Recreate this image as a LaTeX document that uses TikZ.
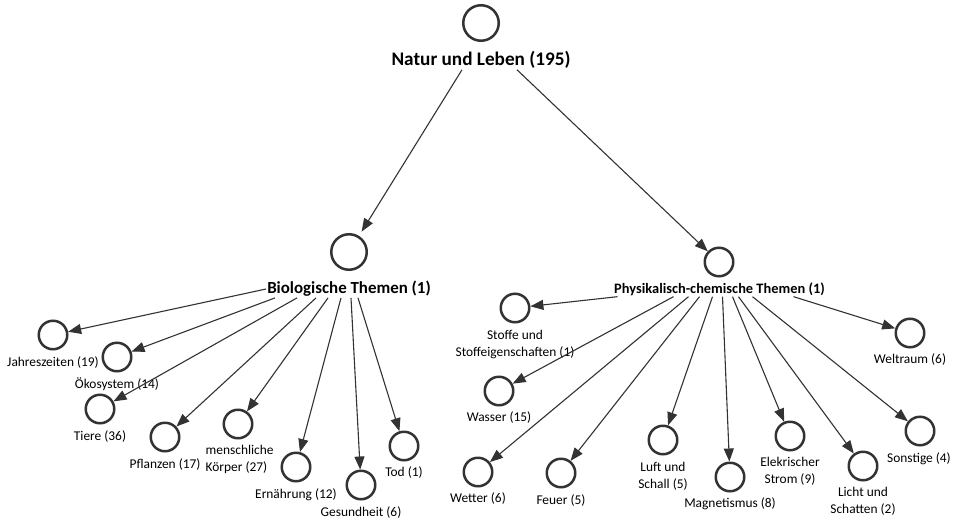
\documentclass[tikz,border=0pt]{standalone}
\usepackage{fontspec}
\setmainfont{Carlito}
\usetikzlibrary{arrows.meta}
\definecolor{ln}{HTML}{333333}
\begin{document}
\begin{tikzpicture}[x=1pt,y=-1pt,
  bigc/.style={circle,draw=ln,line width=2.5pt,minimum size=35.5pt,inner sep=0},
  smallc/.style={circle,draw=ln,line width=2.5pt,minimum size=28.5pt,inner sep=0},
  lbl/.style={inner sep=0.5pt,font=\fontsize{13.4}{17}\selectfont,text=black,align=center},
  arr/.style={draw=ln,line width=1.1pt,-{Triangle[length=13pt,width=10pt]}}]
\useasboundingbox[fill=white] (0,0) rectangle (955,522);
% root
\node[bigc] (root) at (481,23) {};
\node[inner sep=1pt,font=\fontsize{19.2}{22}\selectfont\bfseries] (rootl) at (481,60) {Natur und Leben (195)};
% level 1
\node[bigc] (bio) at (349,252) {};
\node[inner sep=1pt,font=\fontsize{16.9}{20}\selectfont\bfseries] (biol) at (349,289) {Biologische Themen (1)};
\node[smallc] (phys) at (719,262) {};
\node[inner sep=1pt,font=\fontsize{14.4}{17}\selectfont\bfseries] (physl) at (719.5,289) {Physikalisch-chemische Themen (1)};
\draw[arr,shorten >=5pt] ([xshift=-19pt]rootl.south) -- (bio);
\draw[arr] ([xshift=36pt]rootl.south) -- (phys);
% bio children
\node[smallc] (jahr) at (53,335) {};
\node[lbl] (jahrl) at (53,363) {Jahreszeiten (19)};
\node[smallc] (oeko) at (117,357) {};
\node[lbl] (oekol) at (117,384) {Ökosystem (14)};
\node[smallc] (tiere) at (100,409) {};
\node[lbl] (tierel) at (100,437) {Tiere (36)};
\node[smallc] (pfl) at (165,437) {};
\node[lbl] (pfll) at (165,465) {Pflanzen (17)};
\node[smallc] (mensch) at (238,424) {};
\node[lbl,align=left,anchor=north west] (menschl) at (205,444) {menschliche\\Körper (27)};
\node[smallc] (ern) at (296,467) {};
\node[lbl] (ernl) at (296,495) {Ernährung (12)};
\node[smallc] (ges) at (361,485) {};
\node[lbl] (gesl) at (361,513) {Gesundheit (6)};
\node[smallc] (tod) at (404,446) {};
\node[lbl] (todl) at (404,473) {Tod (1)};
\draw[arr] (biol.west) -- (jahr);
\draw[arr] ([xshift=-74pt]biol.south) -- (oeko);
\draw[arr] ([xshift=-52pt]biol.south) -- (tiere);
\draw[arr] ([xshift=-33pt]biol.south) -- (pfl);
\draw[arr] ([xshift=-21pt]biol.south) -- (mensch);
\draw[arr] ([xshift=-8pt]biol.south) -- (ern);
\draw[arr] ([xshift=2pt]biol.south) -- (ges);
\draw[arr] ([xshift=9pt]biol.south) -- (tod);
% phys children
\node[smallc] (stoffe) at (515,308) {};
\node[lbl] (stoffel) at (515,344.5) {Stoffe und\\Stoffeigenschaften (1)};
\node[smallc] (wasser) at (499,391) {};
\node[lbl] (wasserl) at (499,418) {Wasser (15)};
\node[smallc] (wetter) at (478,472) {};
\node[lbl] (wetterl) at (478,499) {Wetter (6)};
\node[smallc] (feuer) at (561,473) {};
\node[lbl] (feuerl) at (561,501) {Feuer (5)};
\node[smallc] (luft) at (663,440) {};
\node[lbl] (luftl) at (663,476.5) {Luft und\\Schall (5)};
\node[smallc] (magn) at (730,477) {};
\node[lbl] (magnl) at (730,504) {Magnetismus (8)};
\node[smallc] (elek) at (790,436) {};
\node[lbl] (elekl) at (790,471.5) {Elekrischer\\Strom (9)};
\node[smallc] (licht) at (863,466) {};
\node[lbl] (lichtl) at (863,501.5) {Licht und\\Schatten (2)};
\node[smallc] (sonst) at (920,431) {};
\node[lbl] (sonstl) at (919,459) {Sonstige (4)};
\node[smallc] (welt) at (910,333) {};
\node[lbl] (weltl) at (910,360) {Weltraum (6)};
\draw[arr] ([xshift=-102pt]physl.south) -- (stoffe);
\draw[arr] ([xshift=-46pt]physl.south) -- (wasser);
\draw[arr] ([xshift=-31pt]physl.south) -- (wetter);
\draw[arr] ([xshift=-20pt]physl.south) -- (feuer);
\draw[arr] ([xshift=-7pt]physl.south) -- (luft);
\draw[arr] ([xshift=3pt]physl.south) -- (magn);
\draw[arr] ([xshift=13pt]physl.south) -- (elek);
\draw[arr] ([xshift=19pt]physl.south) -- (licht);
\draw[arr] ([xshift=33pt]physl.south) -- (sonst);
\draw[arr] ([xshift=74pt]physl.south) -- (welt);
\end{tikzpicture}
\end{document}
